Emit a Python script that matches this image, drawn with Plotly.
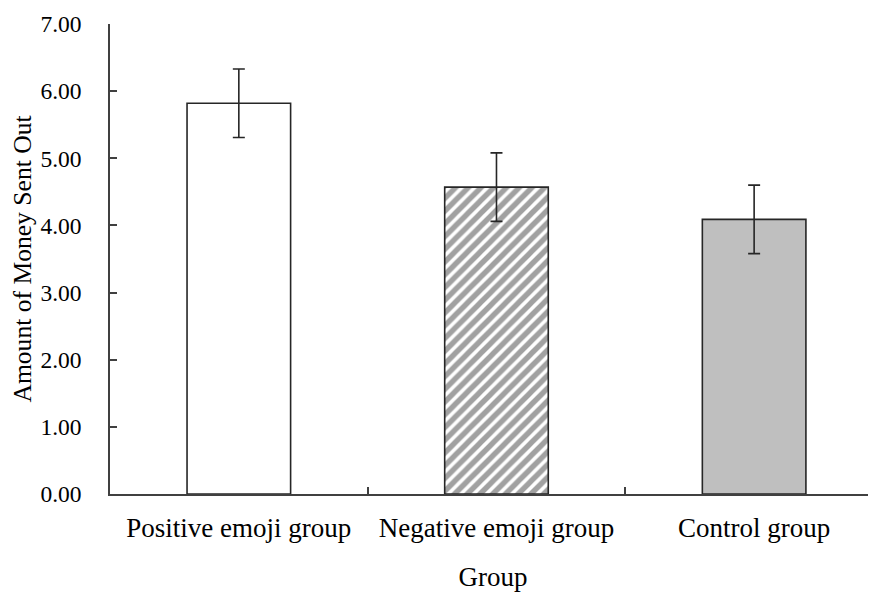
import plotly.graph_objects as go

categories = ["Positive emoji group", "Negative emoji group", "Control group"]
means = [5.82, 4.57, 4.09]
errors = [0.51, 0.51, 0.51]
y_ticks = [0, 1, 2, 3, 4, 5, 6, 7]

fills = ["#ffffff", "#ffffff", "#bfbfbf"]
shapes = ["", "/", ""]

fig = go.Figure()
fig.add_trace(go.Bar(
    x=categories, y=means, width=0.402,
    marker=dict(color=fills,
                line=dict(color="#262626", width=1.6),
                pattern=dict(shape=shapes, fgcolor="#404040", bgcolor="#ffffff",
                             size=9, solidity=0.6, fillmode="overlay")),
    error_y=dict(type="data", array=errors, visible=True,
                 color="#262626", thickness=1.6, width=6),
    showlegend=False,
))

font = "Liberation Serif, Times New Roman, serif"
fig.update_layout(
    width=868, height=584,
    margin=dict(l=102, r=0, t=16, b=98),
    plot_bgcolor="white", paper_bgcolor="white",
    font=dict(family=font, color="black"),
    bargap=0.6,
)
fig.update_xaxes(
    type="category", range=[-0.5, 2.473],
    showline=True, linecolor="#404040", linewidth=1.5,
    ticks="inside", tickson="boundaries", ticklen=7, tickcolor="#404040", tickwidth=1.5,
    tickfont=dict(size=27, family=font, color="black"),
    ticklabelstandoff=9,
    title=dict(text="Group", font=dict(size=27, family=font, color="black"), standoff=26),
    showgrid=False, zeroline=False,
)
fig.update_yaxes(
    range=[0, 7], tickvals=y_ticks, tickformat=".2f",
    showline=True, linecolor="#404040", linewidth=1.5,
    ticks="inside", ticklen=7, tickcolor="#404040", tickwidth=1.5,
    tickfont=dict(size=23.5, family=font, color="black"),
    ticklabelstandoff=22,
    title=dict(text="Amount of Money Sent Out", font=dict(size=25.6, family=font, color="black"), standoff=14),
    showgrid=False, zeroline=False,
)
fig.write_html("out.html")
